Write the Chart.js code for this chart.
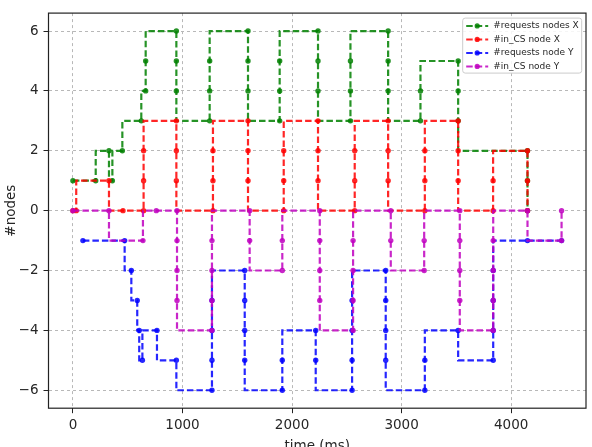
<!DOCTYPE html>
<html><head><meta charset="utf-8">
<script src="https://cdn.jsdelivr.net/npm/chart.js@4/dist/chart.umd.min.js"></script>
<style>html,body{margin:0;padding:0;background:#fff;overflow:hidden}</style>
</head><body>
<canvas id="c" width="592" height="447"></canvas>
<script>
// ---- data (matplotlib "steps-pre" style points: value y holds up to time x) ----
const seriesLabels = ['#requests nodes X', '#in_CS node X', '#requests node Y', '#in_CS node Y'];

const reqXTimes  = [0,208,329,360,451,624,664,664,944,944,944,1248,1248,1248,1598,1598,1598,1887,1887,1887,2237,2237,2237,2533,2533,2533,2877,2877,2877,3172,3172,3516,3516,3516,4149,4149,4149];
const reqXCounts = [1,1,2,1,2,3,4,5,6,5,4,3,4,5,6,5,4,3,4,5,6,5,4,3,4,5,6,5,4,3,4,5,4,3,2,1,0];

const csXTimes  = [0,30,329,457,645,645,645,944,944,944,1278,1278,1278,1598,1598,1598,1924,1924,1924,2237,2237,2237,2572,2572,2572,2877,2877,2877,3212,3212,3212,3516,3516,3516,3835,3835,4149,4149,4149];
const csXCounts = [0,0,1,0,0,1,2,3,2,1,0,1,2,3,2,1,0,1,2,3,2,1,0,1,2,3,2,1,0,1,2,3,2,1,0,1,2,1,0];

const reqYTimes  = [91,472,533,587,605,634,767,944,1269,1269,1269,1269,1568,1568,1568,1568,1911,1911,2216,2216,2548,2548,2548,2548,2855,2855,2855,2855,3212,3212,3516,3836,3836,3836,3836,4149,4460];
const reqYCounts = [-1,-1,-2,-3,-4,-5,-4,-5,-6,-5,-4,-3,-2,-3,-4,-5,-6,-5,-4,-5,-6,-5,-4,-3,-2,-3,-4,-5,-6,-5,-4,-5,-4,-3,-2,-1,-1];

const csYTimes  = [0,329,639,761,950,950,950,950,1269,1269,1269,1269,1613,1613,1911,1911,2253,2253,2253,2253,2557,2557,2557,2557,2901,2901,3206,3206,3531,3531,3531,3531,3836,3836,3836,3836,4149,4460,4460];
const csYCounts = [0,0,-1,0,0,-1,-2,-3,-4,-3,-2,-1,0,-1,-2,-1,0,-1,-2,-3,-4,-3,-2,-1,0,-1,-2,-1,0,-1,-2,-3,-4,-3,-2,-1,0,-1,0];

const xTicks = [0, 1000, 2000, 3000, 4000];
const yTicks = [-6, -4, -2, 0, 2, 4, 6];
const xLimits = [-223, 4683];
const yLimits = [-6.6, 6.6];

// ---- build ----
function pts(t, v) { return t.map((x, i) => ({x: x, y: v[i]})); }
const colors = ['rgba(0,128,0,0.85)', 'rgba(255,0,0,0.85)', 'rgba(0,0,255,0.85)', 'rgba(191,0,191,0.85)'];
const seriesData = [pts(reqXTimes, reqXCounts), pts(csXTimes, csXCounts), pts(reqYTimes, reqYCounts), pts(csYTimes, csYCounts)];
const DASH = [6.5, 3];

const datasets = seriesData.map((d, i) => ({
  label: seriesLabels[i],
  data: d,
  borderColor: colors[i],
  backgroundColor: colors[i],
  borderWidth: 2.2,
  borderDash: DASH,
  stepped: 'after',
  fill: false,
  pointRadius: 2.7,
  pointHoverRadius: 2.7,
  pointBorderWidth: 0,
  order: 3 - i
}));

const FONT = 'DejaVu Sans';
const TXT = '#262626';

const framePlugin = {
  id: 'frame',
  afterDraw(chart) {
    const ctx = chart.ctx, a = chart.chartArea;
    ctx.save();
    ctx.strokeStyle = '#222';
    ctx.lineWidth = 1.2;
    ctx.setLineDash([]);
    ctx.strokeRect(a.left, a.top, a.right - a.left, a.bottom - a.top);
    // legend (matplotlib style, upper right)
    const bw = 119, bh = 55;
    const bx = a.right - 4.3 - bw, by = a.top + 5;
    const r = 2.5;
    ctx.beginPath();
    ctx.moveTo(bx + r, by);
    ctx.arcTo(bx + bw, by, bx + bw, by + bh, r);
    ctx.arcTo(bx + bw, by + bh, bx, by + bh, r);
    ctx.arcTo(bx, by + bh, bx, by, r);
    ctx.arcTo(bx, by, bx + bw, by, r);
    ctx.closePath();
    ctx.fillStyle = 'rgba(255,255,255,0.85)';
    ctx.fill();
    ctx.strokeStyle = '#cccccc';
    ctx.lineWidth = 1;
    ctx.stroke();
    chart.data.datasets.forEach((ds, i) => {
      const y = by + 7.8 + i * 13.5;
      const x0 = bx + 3.5, x1 = bx + 25.5;
      ctx.strokeStyle = ds.borderColor;
      ctx.lineWidth = 2;
      ctx.setLineDash(DASH);
      ctx.beginPath(); ctx.moveTo(x0, y); ctx.lineTo(x1, y); ctx.stroke();
      ctx.setLineDash([]);
      ctx.fillStyle = ds.borderColor;
      ctx.beginPath(); ctx.arc((x0 + x1) / 2, y, 2.6, 0, Math.PI * 2); ctx.fill();
      ctx.fillStyle = TXT;
      ctx.font = '9px "' + FONT + '"';
      ctx.textAlign = 'left';
      ctx.textBaseline = 'middle';
      ctx.fillText(ds.label, bx + 30.6, y);
    });
    ctx.restore();
  }
};

const minus = v => (v < 0 ? '\u2212' + Math.abs(v) : String(v));

new Chart(document.getElementById('c'), {
  type: 'line',
  data: {datasets: datasets},
  plugins: [framePlugin],
  options: {
    responsive: false,
    animation: false,
    devicePixelRatio: 1,
    layout: {padding: {left: 0, right: 6, top: 6.7, bottom: 0}},
    plugins: {legend: {display: false}, tooltip: {enabled: false}},
    scales: {
      x: {
        type: 'linear',
        min: xLimits[0], max: xLimits[1],
        afterBuildTicks: s => { s.ticks = xTicks.map(v => ({value: v})); },
        afterFit: s => { s.height = 38.8; },
        ticks: {font: {family: FONT, size: 13.5}, color: TXT, padding: 4, maxRotation: 0, autoSkip: false, callback: v => minus(v)},
        grid: {color: '#b8b8b8', lineWidth: 1, tickLength: 5, tickColor: '#222', tickWidth: 1, tickBorderDash: []},
        border: {display: false, dash: [3, 3]},
        title: {display: true, text: 'time (ms)', font: {family: FONT, size: 13.5}, color: TXT, padding: {top: 0, bottom: -8}}
      },
      y: {
        type: 'linear',
        min: yLimits[0], max: yLimits[1],
        afterBuildTicks: s => { s.ticks = yTicks.map(v => ({value: v})); },
        afterFit: s => { s.width = 48.5; },
        ticks: {font: {family: FONT, size: 13.5}, color: TXT, padding: 5, autoSkip: false, callback: v => minus(v)},
        grid: {color: '#b8b8b8', lineWidth: 1, tickLength: 5, tickColor: '#222', tickWidth: 1, tickBorderDash: []},
        border: {display: false, dash: [3, 3]},
        title: {display: true, text: '#nodes', font: {family: FONT, size: 13.5}, color: TXT, padding: {top: 3, bottom: 0}}
      }
    }
  }
});
</script>
</body></html>
